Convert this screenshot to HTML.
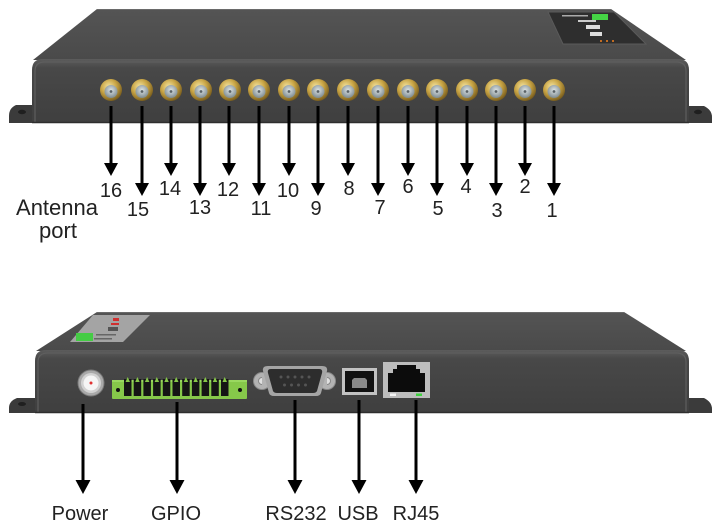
<!DOCTYPE html>
<html>
<head>
<meta charset="utf-8">
<style>
html,body{margin:0;padding:0;background:#fff;}
svg{display:block;}
text{font-family:"Liberation Sans",Arial,sans-serif;fill:#222;}
</style>
</head>
<body>
<svg width="714" height="528" viewBox="0 0 714 528" xmlns="http://www.w3.org/2000/svg">
<defs>
  <linearGradient id="front" x1="0" y1="0" x2="0" y2="1">
    <stop offset="0" stop-color="#5c5c5c"/>
    <stop offset="0.14" stop-color="#484848"/>
    <stop offset="1" stop-color="#3f3f3f"/>
  </linearGradient>
  <linearGradient id="topg" x1="0" y1="0" x2="0" y2="1">
    <stop offset="0" stop-color="#545454"/>
    <stop offset="1" stop-color="#4a4a4a"/>
  </linearGradient>
  <radialGradient id="gold" cx="0.4" cy="0.35" r="0.7">
    <stop offset="0" stop-color="#f3e3a0"/>
    <stop offset="0.5" stop-color="#c9a545"/>
    <stop offset="1" stop-color="#6f5418"/>
  </radialGradient>
  <radialGradient id="pin" cx="0.5" cy="0.4" r="0.6">
    <stop offset="0" stop-color="#dde4e6"/>
    <stop offset="1" stop-color="#7d8a8e"/>
  </radialGradient>
  <g id="conn">
    <circle cx="0" cy="0" r="11" fill="url(#gold)"/>
    <circle cx="0" cy="1.5" r="6.5" fill="url(#pin)"/>
    <circle cx="0" cy="1.5" r="1.4" fill="#5a6266"/>
  </g>
</defs>

<!-- ===== TOP DEVICE ===== -->
<path d="M32,105 L16,105 Q9,108 9,116 L9,123 L32,123 Z" fill="#3b3b3b"/>
<ellipse cx="22" cy="112" rx="4" ry="2.2" fill="#1f1f1f"/>
<path d="M689,106 L704,106 Q712,110 712,117 L712,123 L689,123 Z" fill="#3b3b3b"/>
<ellipse cx="698" cy="112" rx="4" ry="2.2" fill="#1f1f1f"/>

<path d="M97,9 L611,9 L686,60 L33,60 Z" fill="url(#topg)"/>
<line x1="97" y1="9.5" x2="611" y2="9.5" stroke="#6a6a6a" stroke-width="1"/>
<path d="M32,123 L32,70 Q32,59 43,59 L678,59 Q689,59 689,70 L689,123 Z" fill="url(#front)"/>
<path d="M35,123 L35,71 Q35,62 45,62 L676,62 Q686,62 686,71 L686,123" fill="none" stroke="#5e5e5e" stroke-width="1.2"/>
<line x1="32" y1="122.5" x2="689" y2="122.5" stroke="#2e2e2e" stroke-width="1.5"/>

<!-- top label -->
<path d="M548,12 L614,12 L646,44 L563,44 Z" fill="#2e2e2e" stroke="#5a5a5a" stroke-width="1"/>
<rect x="592" y="14" width="16" height="6" fill="#45d545"/>
<rect x="562" y="15" width="26" height="1.5" fill="#aaa"/>
<rect x="578" y="20" width="18" height="2" fill="#ccc"/>
<rect x="586" y="25" width="14" height="4" fill="#ddd"/>
<rect x="590" y="32" width="12" height="4" fill="#ddd"/>
<circle cx="601" cy="41" r="1" fill="#f08020"/>
<circle cx="607" cy="41" r="1" fill="#f08020"/>
<circle cx="613" cy="41" r="1" fill="#f08020"/>

<!-- antenna connectors -->
<use href="#conn" x="111" y="90"/>
<use href="#conn" x="142" y="90"/>
<use href="#conn" x="171" y="90"/>
<use href="#conn" x="201" y="90"/>
<use href="#conn" x="230" y="90"/>
<use href="#conn" x="259" y="90"/>
<use href="#conn" x="289" y="90"/>
<use href="#conn" x="318" y="90"/>
<use href="#conn" x="348" y="90"/>
<use href="#conn" x="378" y="90"/>
<use href="#conn" x="408" y="90"/>
<use href="#conn" x="437" y="90"/>
<use href="#conn" x="467" y="90"/>
<use href="#conn" x="496" y="90"/>
<use href="#conn" x="525" y="90"/>
<use href="#conn" x="554" y="90"/>

<!-- top arrows -->
<g stroke="#000" stroke-width="3">
  <line x1="111" y1="106" x2="111" y2="165"/>
  <line x1="142" y1="106" x2="142" y2="185"/>
  <line x1="171" y1="106" x2="171" y2="165"/>
  <line x1="200" y1="106" x2="200" y2="185"/>
  <line x1="229" y1="106" x2="229" y2="165"/>
  <line x1="259" y1="106" x2="259" y2="185"/>
  <line x1="289" y1="106" x2="289" y2="165"/>
  <line x1="318" y1="106" x2="318" y2="185"/>
  <line x1="348" y1="106" x2="348" y2="165"/>
  <line x1="378" y1="106" x2="378" y2="185"/>
  <line x1="408" y1="106" x2="408" y2="165"/>
  <line x1="437" y1="106" x2="437" y2="185"/>
  <line x1="467" y1="106" x2="467" y2="165"/>
  <line x1="496" y1="106" x2="496" y2="185"/>
  <line x1="525" y1="106" x2="525" y2="165"/>
  <line x1="554" y1="106" x2="554" y2="185"/>
</g>
<g fill="#000">
  <polygon points="104,163 118,163 111,176"/>
  <polygon points="135,183 149,183 142,196"/>
  <polygon points="164,163 178,163 171,176"/>
  <polygon points="193,183 207,183 200,196"/>
  <polygon points="222,163 236,163 229,176"/>
  <polygon points="252,183 266,183 259,196"/>
  <polygon points="282,163 296,163 289,176"/>
  <polygon points="311,183 325,183 318,196"/>
  <polygon points="341,163 355,163 348,176"/>
  <polygon points="371,183 385,183 378,196"/>
  <polygon points="401,163 415,163 408,176"/>
  <polygon points="430,183 444,183 437,196"/>
  <polygon points="460,163 474,163 467,176"/>
  <polygon points="489,183 503,183 496,196"/>
  <polygon points="518,163 532,163 525,176"/>
  <polygon points="547,183 561,183 554,196"/>
</g>

<!-- top labels -->
<g font-size="20" text-anchor="middle">
  <text x="111" y="197">16</text>
  <text x="138" y="216">15</text>
  <text x="170" y="195">14</text>
  <text x="200" y="214">13</text>
  <text x="228" y="196">12</text>
  <text x="261" y="215">11</text>
  <text x="288" y="197">10</text>
  <text x="316" y="215">9</text>
  <text x="349" y="195">8</text>
  <text x="380" y="214">7</text>
  <text x="408" y="193">6</text>
  <text x="438" y="215">5</text>
  <text x="466" y="193">4</text>
  <text x="497" y="217">3</text>
  <text x="525" y="193">2</text>
  <text x="552" y="217">1</text>
</g>
<text x="57" y="215" font-size="22" text-anchor="middle">Antenna</text>
<text x="58" y="238" font-size="22" text-anchor="middle">port</text>

<!-- ===== BOTTOM DEVICE ===== -->
<path d="M35,398 L17,398 Q9,401 9,408 L9,413 L35,413 Z" fill="#3b3b3b"/>
<ellipse cx="22" cy="404" rx="4" ry="2" fill="#1f1f1f"/>
<path d="M689,398 L704,398 Q712,402 712,409 L712,413 L689,413 Z" fill="#3b3b3b"/>

<path d="M97,312 L624,312 L686,351 L36,351 Z" fill="url(#topg)"/>
<line x1="97" y1="312.5" x2="624" y2="312.5" stroke="#6a6a6a" stroke-width="1"/>
<path d="M35,413 L35,361 Q35,350 46,350 L678,350 Q689,350 689,361 L689,413 Z" fill="url(#front)"/>
<path d="M38,413 L38,362 Q38,353 48,353 L676,353 Q686,353 686,362 L686,413" fill="none" stroke="#5e5e5e" stroke-width="1.2"/>
<line x1="35" y1="412.5" x2="689" y2="412.5" stroke="#2e2e2e" stroke-width="1.5"/>

<!-- bottom label -->
<path d="M93,315 L150,315 L123,342 L70,342 Z" fill="#a4a4a4"/>
<rect x="76" y="333" width="17" height="8" fill="#45cc45"/>
<rect x="113" y="318" width="6" height="3" fill="#d03030"/>
<rect x="111" y="323" width="8" height="2" fill="#d03030"/>
<rect x="108" y="327" width="10" height="4" fill="#555"/>
<rect x="96" y="334" width="20" height="1.5" fill="#666"/>
<rect x="94" y="338" width="18" height="1.5" fill="#666"/>

<!-- power -->
<circle cx="91" cy="383" r="13" fill="#a9a9a9" stroke="#7a7a7a" stroke-width="1"/>
<circle cx="91" cy="383" r="10" fill="#d2d2d2"/>
<circle cx="91" cy="383" r="7.5" fill="#f5f5f5"/>
<circle cx="91" cy="383" r="1.5" fill="#e03030"/>

<!-- GPIO -->
<rect x="112" y="380" width="135" height="19" fill="#86c84a" rx="1"/>
<rect x="112" y="380" width="135" height="2" fill="#9ad860"/>
<circle cx="118" cy="390" r="2" fill="#111"/>
<circle cx="240" cy="390" r="2" fill="#111"/>
<g fill="#151515">
  <rect x="124" y="379" width="7.5" height="17"/>
  <rect x="133.7" y="379" width="7.5" height="17"/>
  <rect x="143.4" y="379" width="7.5" height="17"/>
  <rect x="153.1" y="379" width="7.5" height="17"/>
  <rect x="162.8" y="379" width="7.5" height="17"/>
  <rect x="172.5" y="379" width="7.5" height="17"/>
  <rect x="182.2" y="379" width="7.5" height="17"/>
  <rect x="191.9" y="379" width="7.5" height="17"/>
  <rect x="201.6" y="379" width="7.5" height="17"/>
  <rect x="211.3" y="379" width="7.5" height="17"/>
  <rect x="221" y="379" width="7.5" height="17"/>
</g>
<g fill="#86c84a">
  <polygon points="127.7,377 125.5,382 130,382"/>
  <polygon points="137.4,377 135.2,382 139.7,382"/>
  <polygon points="147.1,377 144.9,382 149.4,382"/>
  <polygon points="156.8,377 154.6,382 159.1,382"/>
  <polygon points="166.5,377 164.3,382 168.8,382"/>
  <polygon points="176.2,377 174,382 178.5,382"/>
  <polygon points="185.9,377 183.7,382 188.2,382"/>
  <polygon points="195.6,377 193.4,382 197.9,382"/>
  <polygon points="205.3,377 203.1,382 207.6,382"/>
  <polygon points="215,377 212.8,382 217.3,382"/>
  <polygon points="224.7,377 222.5,382 227,382"/>
</g>

<!-- RS232 DB9 -->
<circle cx="262" cy="381" r="8.5" fill="#b3b3b3" stroke="#8a8a8a" stroke-width="1"/>
<circle cx="262" cy="381" r="3.5" fill="#e0e0e0" stroke="#888" stroke-width="1"/>
<circle cx="327" cy="381" r="8.5" fill="#b3b3b3" stroke="#8a8a8a" stroke-width="1"/>
<circle cx="327" cy="381" r="3.5" fill="#e0e0e0" stroke="#888" stroke-width="1"/>
<rect x="262" y="375" width="65" height="12" fill="#b3b3b3"/>
<path d="M268,366 L322,366 Q328,366 327,371 L321,393 Q320,396 316,396 L274,396 Q270,396 269,393 L263,371 Q262,366 268,366 Z" fill="#a5a5a5"/>
<path d="M271,369 L319,369 Q323,369 322,373 L317,391 Q316,393 313,393 L277,393 Q274,393 273,391 L268,373 Q267,369 271,369 Z" fill="#2d2d2d"/>
<g fill="#555">
  <circle cx="281" cy="377" r="1.5"/><circle cx="288" cy="377" r="1.5"/><circle cx="295" cy="377" r="1.5"/><circle cx="302" cy="377" r="1.5"/><circle cx="309" cy="377" r="1.5"/>
  <circle cx="284.5" cy="385" r="1.5"/><circle cx="291.5" cy="385" r="1.5"/><circle cx="298.5" cy="385" r="1.5"/><circle cx="305.5" cy="385" r="1.5"/>
</g>

<!-- USB -->
<rect x="342" y="368" width="35" height="27" fill="#c2c2c2"/>
<rect x="345" y="371" width="29" height="21" fill="#111"/>
<path d="M354,378 L365,378 L367,380 L367,388 L352,388 L352,380 Z" fill="#8a8a8a"/>

<!-- RJ45 -->
<rect x="383" y="362" width="47" height="36" fill="#bdbdbd"/>
<path d="M388,373 L393,373 L393,369 L397,369 L397,365 L416,365 L416,369 L420,369 L420,373 L425,373 L425,392 L388,392 Z" fill="#0c0c0c"/>
<rect x="390" y="393.5" width="6" height="2.5" fill="#f4f4f4"/>
<rect x="416" y="393.5" width="6" height="2.5" fill="#3fd33f"/>

<!-- bottom arrows -->
<g stroke="#000" stroke-width="3">
  <line x1="83" y1="404" x2="83" y2="482"/>
  <line x1="177" y1="402" x2="177" y2="482"/>
  <line x1="295" y1="400" x2="295" y2="482"/>
  <line x1="359" y1="400" x2="359" y2="482"/>
  <line x1="416" y1="400" x2="416" y2="482"/>
</g>
<g fill="#000">
  <polygon points="75.5,480 90.5,480 83,494"/>
  <polygon points="169.5,480 184.5,480 177,494"/>
  <polygon points="287.5,480 302.5,480 295,494"/>
  <polygon points="351.5,480 366.5,480 359,494"/>
  <polygon points="408.5,480 423.5,480 416,494"/>
</g>

<g font-size="20" text-anchor="middle">
  <text x="80" y="520">Power</text>
  <text x="176" y="520">GPIO</text>
  <text x="296" y="520">RS232</text>
  <text x="358" y="520">USB</text>
  <text x="416" y="520">RJ45</text>
</g>
</svg>
</body>
</html>
